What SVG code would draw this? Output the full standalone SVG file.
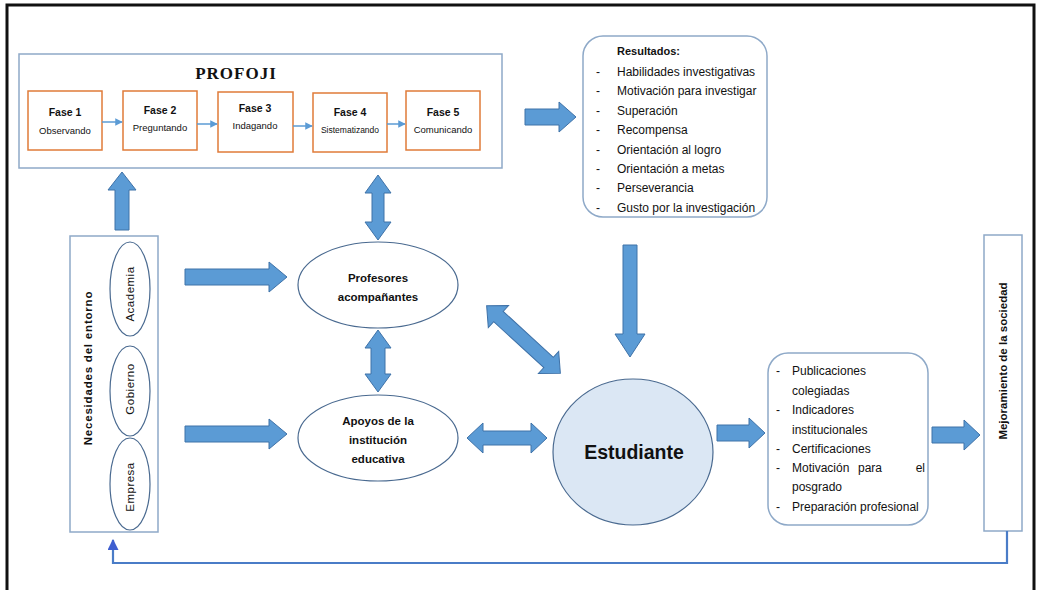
<svg xmlns="http://www.w3.org/2000/svg" width="1041" height="590" viewBox="0 0 1041 590">
<defs>
<style>
.frame{fill:none;stroke:#111;stroke-width:3}
.box{fill:#fff;stroke:#8ea9c8;stroke-width:1.5}
.fase{fill:#fff;stroke:#e07b39;stroke-width:1.5}
.ell{fill:#fff;stroke:#4a6a90;stroke-width:1.2}
.big{fill:#5b9bd5;stroke:#3f72a8;stroke-width:1}
.thin{fill:none;stroke:#5b9bd5;stroke-width:1.5}
.fb{fill:none;stroke:#4a7cc7;stroke-width:2.2}
text{font-family:"Liberation Sans",Arial,sans-serif;fill:#111}
.ft{font-size:10.5px;font-weight:bold;text-anchor:middle}
.fs{font-size:9.5px;text-anchor:middle}
.res{font-size:12px}
.nd{font-size:11.5px;font-weight:bold;text-anchor:middle;letter-spacing:0.8px}
.md{font-size:11.5px;font-weight:bold;text-anchor:middle}
.et{font-size:11.5px;text-anchor:middle;letter-spacing:0.5px}
.ctr{font-size:11.5px;font-weight:bold;text-anchor:middle}
</style>
<marker id="ah" viewBox="0 0 10 10" refX="9" refY="5" markerWidth="5" markerHeight="5" orient="auto"><path d="M0,0 L10,5 L0,10 z" fill="#5b9bd5"/></marker>
<marker id="ah2" viewBox="0 0 10 10" refX="9" refY="5" markerWidth="5" markerHeight="5" orient="auto"><path d="M0,0 L10,5 L0,10 z" fill="#3f5fd0"/></marker>
</defs>
<rect width="1041" height="590" fill="#fff"/>
<path class="frame" d="M7,592 L7,5 L1034,5 L1034,592"/>

<g id="profoji">
<rect class="box" x="19" y="54" width="483" height="114"/>
<text x="236" y="79" style="font-family:'Liberation Serif',serif;font-size:17px;font-weight:bold;letter-spacing:1px" text-anchor="middle">PROFOJI</text>
</g>
<g id="fase1"><rect class="fase" x="28" y="91" width="74" height="59"/><text class="ft" x="65" y="116">Fase 1</text><text class="fs" x="65" y="134">Observando</text></g>
<g id="fase2"><rect class="fase" x="123" y="91" width="74" height="59"/><text class="ft" x="160" y="114">Fase 2</text><text class="fs" x="160" y="131">Preguntando</text></g>
<g id="fase3"><rect class="fase" x="218" y="92" width="75" height="60"/><text class="ft" x="255" y="112">Fase 3</text><text class="fs" x="255" y="129">Indagando</text></g>
<g id="fase4"><rect class="fase" x="313" y="93" width="74" height="59"/><text class="ft" x="350" y="116">Fase 4</text><text class="fs" x="350" y="133" style="font-size:8.5px">Sistematizando</text></g>
<g id="fase5"><rect class="fase" x="406" y="91" width="74" height="59"/><text class="ft" x="443" y="116">Fase 5</text><text class="fs" x="443" y="133">Comunicando</text></g>

<g id="resultados">
<rect class="box" x="583" y="36" width="184" height="181" rx="20"/>
<text x="617" y="55" font-weight="bold" style="font-size:11px">Resultados:</text>
<g class="res">
<text x="596" y="76">-</text><text x="617" y="76">Habilidades investigativas</text>
<text x="596" y="95">-</text><text x="617" y="95">Motivación para investigar</text>
<text x="596" y="115">-</text><text x="617" y="115">Superación</text>
<text x="596" y="134">-</text><text x="617" y="134">Recompensa</text>
<text x="596" y="154">-</text><text x="617" y="154">Orientación al logro</text>
<text x="596" y="173">-</text><text x="617" y="173">Orientación a metas</text>
<text x="596" y="192">-</text><text x="617" y="192">Perseverancia</text>
<text x="596" y="212">-</text><text x="617" y="212">Gusto por la investigación</text>
</g>
</g>

<g id="necesidades">
<rect class="box" x="70" y="236" width="88" height="296"/>
<text class="nd" transform="translate(92,368) rotate(-90)">Necesidades del entorno</text>
<ellipse class="ell" cx="130" cy="289" rx="20" ry="47"/>
<text class="et" transform="translate(134,294) rotate(-90)">Academia</text>
<ellipse class="ell" cx="130" cy="391" rx="20" ry="45"/>
<text class="et" transform="translate(134,389) rotate(-90)">Gobierno</text>
<ellipse class="ell" cx="130" cy="484" rx="20" ry="46"/>
<text class="et" transform="translate(134,487) rotate(-90)">Empresa</text>
</g>

<g id="profesores">
<ellipse class="ell" cx="378" cy="285" rx="80" ry="43"/>
<text class="ctr" x="378" y="282">Profesores</text>
<text class="ctr" x="378" y="301">acompañantes</text>
</g>

<g id="apoyos">
<ellipse class="ell" cx="378" cy="438" rx="80" ry="43"/>
<text class="ctr" x="378" y="425">Apoyos de la</text>
<text class="ctr" x="378" y="444">institución</text>
<text class="ctr" x="378" y="463">educativa</text>
</g>

<g id="estudiante">
<ellipse cx="633" cy="452" rx="80" ry="73" fill="#dbe7f4" stroke="#4a6a90" stroke-width="1.2"/>
<text x="634" y="459" text-anchor="middle" style="font-size:19.5px;font-weight:bold">Estudiante</text>
</g>

<g id="productos">
<rect class="box" x="768" y="353" width="160" height="172" rx="20"/>
<g class="res">
<text x="776" y="375">-</text><text x="792" y="375">Publicaciones</text>
<text x="792" y="395">colegiadas</text>
<text x="776" y="414">-</text><text x="792" y="414">Indicadores</text>
<text x="792" y="434">institucionales</text>
<text x="776" y="453">-</text><text x="792" y="453">Certificaciones</text>
<text x="776" y="472">-</text><text x="792" y="472">Motivación</text><text x="870" y="472" text-anchor="middle">para</text><text x="925" y="472" text-anchor="end">el</text>
<text x="792" y="491">posgrado</text>
<text x="776" y="511">-</text><text x="792" y="511">Preparación profesional</text>
</g>
</g>

<g id="mejoramiento">
<rect class="box" x="984" y="235" width="38" height="296"/>
<text class="md" transform="translate(1007,361) rotate(-90)">Mejoramiento de la sociedad</text>
</g>

<g id="connectors">
<line class="thin" x1="102" y1="122" x2="122" y2="122" marker-end="url(#ah)"/>
<line class="thin" x1="197" y1="124" x2="217" y2="124" marker-end="url(#ah)"/>
<line class="thin" x1="293" y1="126" x2="312" y2="126" marker-end="url(#ah)"/>
<line class="thin" x1="387" y1="124" x2="405" y2="124" marker-end="url(#ah)"/>
<polygon class="big" points="525,109 559,109 559,102 576,117 559,132 559,125 525,125"/>
<polygon class="big" points="623,245 637,245 637,334 645,334 630,357 615,334 623,334"/>
<polygon class="big" points="115,230 129,230 129,190 136,190 122,172 108,190 115,190"/>
<polygon class="big" points="378,175 391,193 384,193 384,222 391,222 378,240 365,222 372,222 372,193 365,193"/>
<polygon class="big" points="378,330 391,348 385,348 385,374 391,374 378,392 365,374 371,374 371,348 365,348"/>
<polygon class="big" points="185,269 269,269 269,262 287,277 269,292 269,285 185,285"/>
<polygon class="big" points="185,426 269,426 269,419 287,434 269,449 269,442 185,442"/>
<polygon class="big" points="467,438 483,423 483,431 531,431 531,423 547,438 531,453 531,445 483,445 483,453"/>
<polygon class="big" transform="translate(523.5,339.5) rotate(42.5)" points="-50,0 -34,-15 -34,-7 34,-7 34,-15 50,0 34,15 34,7 -34,7 -34,15"/>
<polygon class="big" points="717,425 749,425 749,418 765,433 749,448 749,441 717,441"/>
<polygon class="big" points="932,427 964,427 964,420 980,435 964,450 964,443 932,443"/>
<path class="fb" d="M1007,531 L1007,563 L113,563 L113,540" marker-end="url(#ah2)"/>
</g>
</svg>
